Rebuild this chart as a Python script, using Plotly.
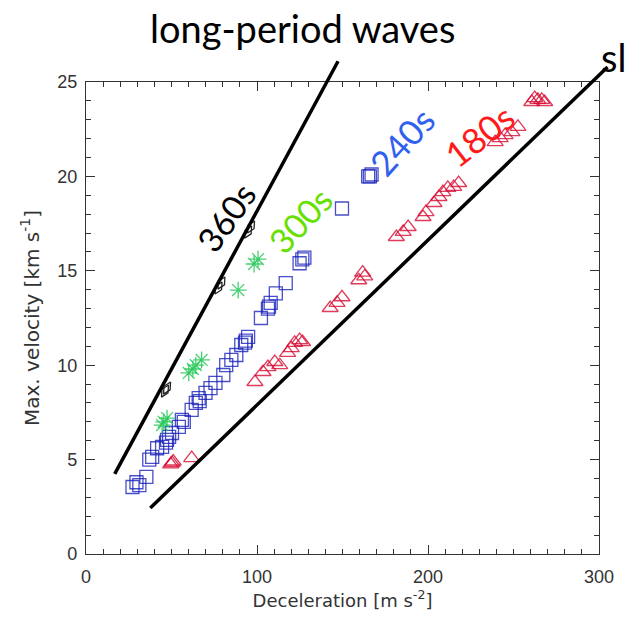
import plotly.graph_objects as go

# ---- data ----
x360 = [46.2, 47.4, 77.5, 79.2, 94.8, 96.5]
y360 = [8.63, 8.79, 14.09, 14.35, 17.05, 17.32]

x300 = [44.5, 47.4, 45.5, 60.1, 64.2, 67.6, 62.5, 89.0, 98.3, 100.6]
y300 = [6.83, 7.2, 7.0, 9.59, 10.0, 10.28, 9.8, 13.98, 15.36, 15.62]

x240 = [27.2, 31.2, 29.5, 35.3, 37.0, 38.7, 41.6, 44.5, 46.8, 47.4, 48.6, 50.3, 54.3,
        56.1, 57.2, 61.8, 64.2, 65.9, 66.5, 69.9, 72.8, 75.7, 80.3, 82.0, 85.0, 87.9,
        90.8, 93.0, 94.8, 93.5, 102.3, 106.4, 108.0, 107.0, 111.0, 116.8, 124.9, 127.7,
        126.5, 149.7, 165.0, 167.0, 166.0]
y240 = [3.55, 3.65, 3.8, 4.08, 5.0, 5.14, 5.6, 5.67, 5.9, 6.04, 6.2, 6.41, 6.73,
        7.1, 7.0, 7.63, 8.0, 8.26, 8.1, 8.53, 8.79, 9.06, 9.48, 10.0, 10.28, 10.54,
        11.07, 11.2, 11.5, 11.3, 12.5, 13.0, 13.3, 13.1, 13.8, 14.35, 15.4, 15.7,
        15.6, 18.3, 20.0, 20.1, 20.0]

x180 = [50.3, 49.5, 51.0, 61.8,
        98.8, 103.5, 106.4, 110.4, 113.3, 117.9, 120.0, 122.0, 124.9, 126.6,
        142.8, 146.8, 149.7, 159.5, 161.8, 163.0,
        181.5, 185.5, 188.4, 197.1, 198.8, 203.5, 206.4, 208.7, 211.6, 215.0, 217.9,
        239.3, 242.2, 245.1, 249.1, 252.6,
        260.7, 262.4, 264.2, 266.5, 268.2]
y180 = [4.82, 4.75, 4.9, 5.08,
        9.11, 9.64, 9.9, 10.17, 10.0, 10.65, 10.9, 11.18, 11.33, 11.23,
        13.03, 13.3, 13.6, 14.5, 14.9, 14.7,
        16.79, 17.06, 17.32, 17.85, 18.11, 18.59, 18.91, 19.17, 19.39, 19.44, 19.65,
        21.82, 22.03, 22.19, 22.35, 22.62,
        23.94, 24.15, 24.05, 24.05, 23.94]

# guide lines (data units): long-period waves, slow waves
line_long = [(16.8, 4.24), (147.4, 26.1)]
line_slow = [(37.6, 2.44), (305.0, 25.8)]

XR = [0, 300]
YR = [0, 25]

fig = go.Figure()

fig.add_trace(go.Scatter(x=x240, y=y240, mode="markers", name="240s",
                         marker=dict(symbol="square-open", size=13,
                                     color="rgba(20,30,185,0.78)",
                                     line=dict(width=1.3))))
fig.add_trace(go.Scatter(x=x180, y=y180, mode="markers", name="180s",
                         marker=dict(symbol="triangle-up-open", size=14,
                                     color="rgba(215,10,50,0.8)",
                                     line=dict(width=1.3))))
fig.add_trace(go.Scatter(x=x300, y=y300, mode="markers", name="300s",
                         marker=dict(symbol="asterisk-open", size=14,
                                     color="rgba(40,200,90,0.85)",
                                     line=dict(width=1.3))))
fig.add_trace(go.Scatter(x=x360, y=y360, mode="markers", name="360s",
                         marker=dict(symbol="diamond-tall-open", size=10, angle=30,
                                     color="#222222",
                                     line=dict(width=1.3))))


def to_paper(pt):
    return ((pt[0] - XR[0]) / (XR[1] - XR[0]), (pt[1] - YR[0]) / (YR[1] - YR[0]))


for ln in (line_long, line_slow):
    (x0, y0), (x1, y1) = to_paper(ln[0]), to_paper(ln[1])
    fig.add_shape(type="line", xref="paper", yref="paper", x0=x0, y0=y0, x1=x1, y1=y1,
                  line=dict(color="black", width=3.5), layer="above")

big = "Lato"
ann = [
    dict(text="long-period waves", x=126.6, y=27.86, size=38, color="black", angle=0, xanchor="center"),
    dict(text="sl", x=300.2, y=26.3, size=38, color="black", angle=0, xanchor="left"),
    dict(text="360s", x=82.1, y=17.85, size=34, color="black", angle=-55, xanchor="center"),
    dict(text="300s", x=125.4, y=17.7, size=34, color="#66e000", angle=-47, xanchor="center"),
    dict(text="240s", x=184.4, y=21.9, size=35, color="#3060ee", angle=-48, xanchor="center"),
    dict(text="180s", x=230.0, y=22.2, size=35, color="#ff1a1a", angle=-38, xanchor="center"),
]
for a in ann:
    px, py = to_paper((a["x"], a["y"]))
    fig.add_annotation(text=a["text"], x=px, y=py, xref="paper", yref="paper",
                       showarrow=False, textangle=a["angle"], xanchor=a["xanchor"],
                       yanchor="middle",
                       font=dict(family=big, size=a["size"], color=a["color"]))

axis_common = dict(showgrid=False, zeroline=False, showline=True, linecolor="#333333",
                   linewidth=1.3, mirror="allticks", ticks="inside", ticklen=9,
                   tickwidth=1.2, tickcolor="#333333",
                   tickfont=dict(family="Liberation Sans", size=18, color="#333333"))

fig.update_xaxes(range=XR, dtick=100, tick0=0,
                 minor=dict(dtick=10, ticks="inside", ticklen=5, tickcolor="#333333", tickwidth=1),
                 title=dict(text="Deceleration [m s<sup>-2</sup>]", standoff=8,
                            font=dict(family="DejaVu Sans", size=18, color="#333333")),
                 ticklabelstandoff=6,
                 **axis_common)
fig.update_yaxes(range=YR, dtick=5, tick0=0,
                 minor=dict(dtick=1, ticks="inside", ticklen=5, tickcolor="#333333", tickwidth=1),
                 title=dict(text="Max. velocity [km s<sup>-1</sup>]", standoff=12,
                            font=dict(family="DejaVu Sans", size=20, color="#333333")),
                 ticklabelstandoff=4,
                 **axis_common)

fig.update_layout(width=626, height=637, margin=dict(l=86, r=21, t=82, b=83),
                  paper_bgcolor="white", plot_bgcolor="white", showlegend=False)

fig.write_html("out.html")
